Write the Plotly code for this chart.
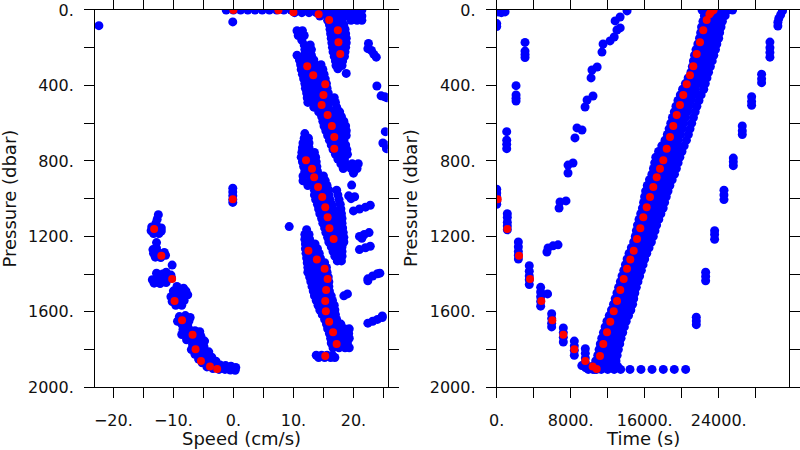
import plotly.graph_objects as go

# ---------------- axis ticks ----------------
speed_ticks = [-20, -15, -10, -5, 0, 5, 10, 15, 20, 25]
speed_ticktext = ["\u221220.", "", "\u221210.", "", "0.", "", "10.", "", "20.", ""]
time_ticks = [0, 4000, 8000, 12000, 16000, 20000, 24000, 28000]
time_ticktext = ["0.", "", "8000.", "", "16000.", "", "24000.", ""]
pres_ticks = [0, 200, 400, 600, 800, 1000, 1200, 1400, 1600, 1800, 2000]
pres_ticktext = ["0.", "", "400.", "", "800.", "", "1200.", "", "1600.", "", "2000."]

# ---------------- red: bin-averaged profile ----------------
red_pressure = [1003, 1161, 1302, 1426, 1542, 1645, 1722, 1798, 1860, 1890, 1903,
                1834, 1770, 1708, 1652, 1597, 1542, 1484, 1426, 1371, 1322, 1276, 1214, 1157,
                1099, 1046, 991, 938, 887, 841, 797, 735, 673, 615, 557, 504, 451, 394, 346, 298,
                233, 171, 108, 53, 23, 12, 2, 0]
red_speed = [-0.1, -13.2, -12.0, -10.2, -9.8, -8.55, -6.8, -6.3, -5.4, -3.9, -2.7,
             15.3, 17.2, 16.6, 15.95, 15.4, 15.3, 15.45, 15.7, 15.2, 13.9, 12.5, 16.7, 16.0,
             15.7, 15.3, 14.8, 14.1, 13.45, 13.1, 12.1, 16.8, 16.8, 16.4, 15.7, 14.7, 15.0, 15.3, 13.3, 12.3,
             17.8, 17.5, 17.4, 15.95, 14.2, 10.0, 7.5, 0.0]
red_time = [108, 1146, 2411, 3600, 4821, 6010, 7200, 8389, 9578, 10373, 10810,
            11167, 11524, 11924, 12280, 12648, 13005, 13362, 13729, 14086, 14443, 14810, 15167, 15523,
            15848, 16215, 16572, 16929, 17296, 17653, 18010, 18377, 18733, 19090, 19457, 19814, 20171, 20539, 20896, 21253,
            21620, 21977, 22334, 22700, 23000, 23150, 23300, 23450]

# ---------------- blue: raw samples, speed panel (pressure, speeds) ----------------
speed_surface_rows = [
    (0, [-1.2, 0.0, 1.2, 2.4, 3.6, 4.8, 6.0, 7.2, 8.4, 9.6, 10.8, 12.0, 13.2, 14.4, 15.6, 16.8, 18.0, 19.2, 20.4, 21.4]),
    (14, [10.2, 11.4, 12.6, 13.8, 15.0, 16.2, 17.4, 18.6, 19.8, 20.9]),
    (32, [14.4, 15.6, 16.8, 18.0, 19.2, 20.4, 21.4]),
    (55, [15.7, 16.9, 18.1, 19.6, 20.6, 21.4]),
]
speed_upper_rows = [
    (78, [16.0, 17.2, 18.4]), (102, [16.1, 17.3, 18.6]), (126, [16.2, 17.4, 18.7]),
    (150, [16.3, 17.5, 18.8]), (174, [16.4, 17.6, 18.8]), (198, [16.5, 17.6, 18.7]),
    (222, [16.6, 17.7, 18.6]), (246, [16.8, 17.8, 18.5]), (270, [17.0, 18.2]),
    (294, [17.1, 18.1]), (312, [17.4]), (336, [18.8]),
    (110, [10.6, 11.5]), (135, [10.8, 11.8]), (160, [11.4]), (185, [11.8, 12.8]),
    (210, [11.9, 13.0]), (240, [10.6, 11.8, 13.0]),
]
speed_band2_rows = [
    (265, [11.0, 12.2, 13.4]), (290, [11.2, 12.4, 13.6, 14.6]), (315, [11.3, 12.5, 13.7, 14.9]),
    (340, [11.5, 12.7, 13.9, 15.1]), (365, [11.7, 12.9, 14.1, 15.3]), (390, [11.9, 13.1, 14.3, 15.5]),
    (415, [12.0, 13.2, 14.4, 15.6]), (440, [12.2, 13.4, 14.6, 15.8]), (465, [12.3, 13.5, 14.7, 15.9, 16.8]),
    (490, [12.4, 13.6, 14.8, 16.0, 17.0]), (515, [13.4, 14.6, 15.8, 17.2]), (540, [14.2, 15.4, 16.6, 17.7]),
    (565, [14.7, 15.9, 17.1, 18.0]), (590, [14.9, 16.1, 17.3, 18.4]), (615, [15.1, 16.3, 17.5, 18.7]),
    (640, [15.4, 16.6, 17.8, 18.8]), (665, [15.7, 16.9, 18.1, 18.8]), (690, [16.0, 17.2, 18.4]),
    (715, [16.3, 17.5, 18.7]), (740, [16.6, 17.8, 18.9]), (765, [17.0, 18.0, 19.0]),
    (790, [17.4, 18.5]), (815, [17.9, 18.7, 19.8, 20.8]), (840, [18.3, 19.6, 20.6]), (865, [20.0]),
]
speed_band3_rows = [
    (655, [11.9]), (680, [11.8, 12.5]), (705, [11.6, 12.6]), (730, [11.5, 12.6]),
    (755, [11.4, 12.6, 13.5]), (780, [11.3, 12.5, 13.7]), (805, [11.5, 12.7, 13.8]),
    (830, [11.7, 12.9, 13.9]), (855, [11.9, 13.0, 14.0]), (880, [11.6, 12.8, 14.0, 15.0]),
    (905, [11.6, 12.8, 14.0, 15.3]), (930, [12.4, 13.6, 14.8, 15.6]), (955, [13.5, 14.7, 15.9, 17.2]),
    (980, [13.5, 14.7, 15.9, 17.4]), (1005, [13.7, 14.9, 16.1, 17.6]), (1030, [14.0, 15.2, 16.4, 17.8]),
    (1055, [14.2, 15.4, 16.6, 17.9]), (1080, [14.4, 15.6, 16.8, 18.0]), (1105, [14.7, 15.9, 17.0, 18.1]),
    (1130, [14.9, 16.0, 17.1, 18.1]), (1155, [15.2, 16.3, 17.3, 18.2]), (1180, [15.4, 16.5, 17.4, 18.3]),
    (1205, [15.7, 16.7, 17.6, 18.4]), (1230, [15.9, 16.9, 17.8, 18.4]), (1255, [16.3, 17.2, 18.1]),
    (1280, [16.6, 17.4, 18.1]), (1305, [16.9, 17.6, 18.1]), (1330, [17.3, 18.0]),
]
speed_band4_rows = [
    (1165, [12.2]), (1190, [11.9, 12.6]), (1215, [11.9, 12.7]), (1240, [12.0, 12.9, 13.6]),
    (1265, [12.0, 13.0, 14.0]), (1290, [12.1, 13.2, 14.3]), (1315, [12.2, 13.3, 14.5]),
    (1340, [12.3, 13.4, 14.6, 15.2]), (1365, [12.4, 13.5, 14.6, 15.5]), (1390, [12.4, 13.6, 14.7, 15.6]),
    (1415, [12.7, 13.8, 14.9, 15.8]), (1440, [12.9, 14.0, 15.0, 15.9]), (1465, [13.1, 14.2, 15.1, 15.9]),
    (1490, [13.3, 14.4, 15.3, 16.0]), (1515, [13.5, 14.6, 15.6, 16.3]), (1540, [13.8, 14.9, 15.9, 16.5]),
    (1565, [14.1, 15.1, 16.0, 16.8]), (1590, [14.4, 15.4, 16.2, 16.9]), (1615, [14.8, 15.7, 16.5, 17.0]),
    (1640, [15.2, 16.0, 16.8, 17.2]), (1665, [15.5, 16.3, 17.1, 17.9]), (1690, [15.7, 16.6, 17.5, 18.5, 19.3]),
    (1715, [16.0, 16.9, 17.8, 18.7, 19.2]), (1740, [16.2, 17.1, 18.0, 18.8, 19.3]),
    (1765, [16.3, 17.3, 18.2, 19.0]), (1790, [16.6, 17.6, 18.6, 19.3]),
    (1830, [13.8, 14.7, 15.6, 16.5]), (1842, [14.2, 15.2, 16.2, 16.9]),
]
speed_scatter_s = [-0.1, -22.4, 9.3,
                   22.5, 22.4, 23.0, 23.4, 23.8, 23.9, 24.6, 25.2, 25.6, 25.3, 24.9, 25.4, 25.5,
                   19.7, 19.2, 20.2, 19.6, 20.0, 21.0, 22.0, 22.8,
                   21.0, 21.8, 22.6, 21.4, 21.0, 22.0, 22.8,
                   22.4, 23.2, 24.0, 24.4, 22.4, 18.4, 19.0,
                   22.4, 23.2, 24.0, 24.8, 24.8]
speed_scatter_p = [63, 83, 1148,
                   177, 205, 215, 235, 250, 403, 455, 460, 465, 645, 705, 715, 735,
                   928, 985, 990, 1000, 1065, 1055, 1045, 1035,
                   1200, 1190, 1180, 1210, 1270, 1260, 1252,
                   1425, 1410, 1398, 1395, 1435, 1515, 1505,
                   1660, 1650, 1640, 1630, 1622]
# descending cast (negative speeds)
speed_desc_s = [-0.1, -0.1, -0.1, -0.1, -0.1,
                -12.5, -12.7, -12.9, -13.6, -12.7, -12.0, -13.7, -12.8, -12.0, -13.3, -12.4,
                -12.8,
                -13.4, -12.8, -13.3, -12.4, -11.5, -13.0, -12.1, -11.3,
                -10.2,
                -12.8, -11.8, -11.2, -10.4, -13.5, -12.6, -11.6, -10.3, -13.2, -12.2, -11.2,
                -9.4, -8.3, -10.0, -9.0, -7.9, -10.4, -9.4, -8.4, -7.6, -10.2, -9.2, -8.2, -9.6, -8.6,
                -9.0, -8.0, -7.2, -9.3, -8.3, -7.4, -8.6, -7.6,
                -8.4, -7.4, -6.4, -5.6, -8.6, -7.5, -6.5, -5.4, -7.8, -6.8, -5.8, -4.8,
                -6.8, -5.8, -4.9, -7.0, -6.0, -5.0, -4.1, -6.4, -5.4, -4.4, -3.6, -5.8, -4.8, -3.8, -2.9,
                -5.2, -4.2, -3.2, -2.2, -1.3, -0.4, 0.4, -4.4, -3.4, -2.4, -1.4, -0.5, 0.3]
speed_desc_p = [945, 965, 985, 1005, 1020,
                1085, 1110, 1130, 1150, 1150, 1155, 1170, 1175, 1172, 1185, 1185,
                1233,
                1270, 1262, 1290, 1290, 1285, 1310, 1312, 1300,
                1352,
                1395, 1400, 1390, 1405, 1430, 1428, 1425, 1420, 1448, 1450, 1445,
                1465, 1475, 1490, 1495, 1490, 1520, 1515, 1515, 1510, 1545, 1545, 1540, 1565, 1565,
                1625, 1620, 1630, 1650, 1650, 1648, 1665, 1665,
                1695, 1690, 1700, 1705, 1720, 1725, 1725, 1730, 1748, 1750, 1752, 1755,
                1775, 1780, 1785, 1800, 1805, 1808, 1812, 1825, 1830, 1835, 1840, 1850, 1855, 1858, 1862,
                1870, 1878, 1880, 1882, 1885, 1888, 1895, 1892, 1900, 1905, 1905, 1908, 1910]

# ---------------- blue: raw samples, time panel (pressure, times) ----------------
time_band_rows = [
    (0, [22200, 22900, 23600, 24300, 25000, 25500]), (30, [22450, 23150, 23850, 24700]),
    (60, [22300, 23000, 23700, 24400]), (90, [22150, 22850, 23550, 24250]),
    (120, [22050, 22750, 23450, 24100]), (150, [21930, 22630, 23330, 24000]),
    (180, [21750, 22450, 23150, 23800]), (210, [21550, 22250, 22950, 23650]),
    (240, [21390, 22090, 22790, 23470]), (270, [21270, 21970, 22670, 23300]),
    (300, [21150, 21850, 22550, 23100]), (330, [21000, 21700, 22400, 22900]),
    (360, [20700, 21400, 22100, 22730]), (390, [20400, 21100, 21800, 22550]),
    (420, [20100, 20800, 21500, 22380]), (450, [19850, 20550, 21250, 22100]),
    (480, [19600, 20300, 21000, 21870]), (510, [19380, 20080, 20780, 21640]),
    (540, [19200, 19900, 20600, 21460]), (570, [19000, 19700, 20400, 21270]),
    (600, [18820, 19520, 20220, 21080]), (630, [18640, 19340, 20040, 20900]),
    (660, [18450, 19150, 19850, 20720]), (690, [18200, 18900, 19600, 20510]),
    (720, [17850, 18450, 19050, 19650, 20270]), (750, [17500, 18130, 18760, 19400, 20030]),
    (780, [17200, 17850, 18500, 19150, 19800]), (810, [17080, 17710, 18340, 18970, 19610]),
    (840, [16950, 17570, 18190, 18800, 19420]), (870, [16780, 17390, 18000, 18610, 19220]),
    (900, [16520, 17130, 17740, 18350, 18970]), (930, [16280, 16890, 17500, 18110, 18720]),
    (960, [16100, 16700, 17300, 17900, 18520]), (990, [15990, 16760, 17550, 18330]),
    (1020, [15880, 16640, 17400, 18150]), (1050, [15750, 16500, 17250, 18000]),
    (1080, [15570, 16300, 17030, 17750]), (1110, [15390, 16100, 16810, 17520]),
    (1140, [15220, 15910, 16600, 17290]), (1170, [15100, 15770, 16440, 17110]),
    (1200, [14980, 15630, 16280, 16930]), (1230, [14810, 15450, 16090, 16720]),
    (1260, [14560, 15200, 15840, 16470]), (1290, [14310, 14950, 15590, 16220]),
    (1320, [14100, 14730, 15370, 16000]), (1350, [13920, 14550, 15190, 15820]),
    (1380, [13740, 14370, 15010, 15640]), (1410, [13550, 14180, 14820, 15450]),
    (1440, [13370, 14000, 14640, 15270]), (1470, [13180, 13820, 14460, 15090]),
    (1500, [13000, 13640, 14290, 14930]), (1530, [12810, 13480, 14150, 14810]),
    (1560, [12630, 13320, 14000, 14690]), (1590, [12410, 13110, 13800, 14500]),
    (1620, [12170, 12860, 13560, 14250]), (1650, [11920, 12610, 13310, 14000]),
    (1680, [11720, 12410, 13110, 13800]), (1710, [11540, 12230, 12930, 13620]),
    (1740, [11360, 12050, 12750, 13440]), (1770, [11200, 11900, 12600, 13300]),
    (1800, [11070, 11760, 12460, 13150]), (1830, [10930, 11630, 12330, 13020]),
    (1860, [10700, 11400, 12100, 12900]), (1890, [10300, 11000, 11700, 12400, 13100]),
    (1905, [9900, 10600, 11300, 12000, 12700, 13400, 14410, 15600, 16790, 18010, 19200, 20430]),
]
# descending cast and the offset sampling lines
time_desc_t = [150, 500, 900, 0, 0,
               3060, 3060, 3060, 3060,
               2090, 2090, 2090, 2090,
               1080, 1080, 1080, 1080,
               0, 0, 0, 0, 0,
               1146, 1146, 1146, 1146, 1146,
               2340, 2340, 2340, 2340, 2340,
               3520, 3520, 3520, 3520, 3520,
               4750, 4750, 5500, 4750, 4750, 4750,
               5940, 5940, 5940, 5940,
               7200, 7200, 7200, 7200,
               8390, 8390, 8390, 8390,
               9580, 9580, 9580, 9580,
               9200, 9600, 10000, 10400, 10800]
time_desc_p = [10, 14, 10, 72, 88,
               172, 218, 236, 252,
               401, 450, 468, 483,
               645, 690, 712, 735,
               950, 970, 990, 1015, 1030,
               1080, 1100, 1125, 1145, 1165,
               1230, 1255, 1280, 1300, 1320,
               1355, 1385, 1410, 1430, 1455,
               1470, 1495, 1505, 1520, 1545, 1570,
               1610, 1635, 1660, 1680,
               1685, 1710, 1735, 1760,
               1755, 1780, 1805, 1830,
               1795, 1820, 1845, 1870,
               1885, 1895, 1900, 1905, 1905]
time_mid_t = [14090, 13340, 12800, 13350, 13000, 12700, 12250, 11500, 11380,
              10860, 10300, 10200, 10410, 9770, 9550, 9220, 8680, 8460,
              8250, 7710, 7710, 7490, 6840, 6740, 6630, 6090, 5550, 5430]
time_mid_p = [5, 37, 58, 95, 106, 143, 164, 180, 223,
              302, 318, 360, 456, 477, 514, 636, 625, 678,
              811, 822, 864, 1012, 1018, 1050, 1245, 1250, 1261, 1283]
time_right_t = [30900, 30700, 30500, 30400, 30400,
                29540, 29540, 29540, 29540,
                28640, 28640, 28640, 27560, 27560, 27560,
                26550, 26550, 26550, 25580, 25580, 25580,
                24570, 24570, 24570, 23560, 23560, 23560,
                22590, 22590, 22590, 21580, 21580, 21580]
time_right_p = [5, 25, 45, 65, 85,
                170, 200, 225, 250,
                340, 365, 385, 460, 485, 505,
                615, 640, 660, 785, 805, 825,
                955, 980, 1005, 1170, 1190, 1215,
                1390, 1412, 1435, 1628, 1648, 1668]


def flatten(rows):
    xs, ps = [], []
    for p, vals in rows:
        for v in vals:
            xs.append(v)
            ps.append(p)
    return xs, ps


left_x, left_p = [], []
for rows in (speed_surface_rows, speed_upper_rows, speed_band2_rows, speed_band3_rows, speed_band4_rows):
    xs, ps = flatten(rows)
    left_x += xs
    left_p += ps
left_x += speed_scatter_s + speed_desc_s
left_p += speed_scatter_p + speed_desc_p

right_x, right_p = flatten(time_band_rows)
right_x += time_desc_t + time_mid_t + time_right_t
right_p += time_desc_p + time_mid_p + time_right_p

BLUE = "#0000ff"
RED = "#ff0000"
FONT = "DejaVu Sans"

fig = go.Figure()
blue_marker = dict(color=BLUE, size=9, line=dict(width=0))
red_marker = dict(color=RED, size=8, line=dict(width=0))
fig.add_trace(go.Scatter(x=left_x, y=left_p, mode="markers", marker=blue_marker,
                         xaxis="x", yaxis="y", hoverinfo="skip"))
fig.add_trace(go.Scatter(x=right_x, y=right_p, mode="markers", marker=blue_marker,
                         xaxis="x2", yaxis="y2", hoverinfo="skip"))
fig.add_trace(go.Scatter(x=red_speed, y=red_pressure, mode="markers", marker=red_marker,
                         xaxis="x", yaxis="y", hoverinfo="skip"))
fig.add_trace(go.Scatter(x=red_time, y=red_pressure, mode="markers", marker=red_marker,
                         xaxis="x2", yaxis="y2", hoverinfo="skip"))

common = dict(showline=True, linecolor="black", linewidth=1, mirror="ticks",
              ticks="outside", ticklen=10, tickwidth=1, tickcolor="black",
              showgrid=False, zeroline=False, automargin=False,
              tickfont=dict(family=FONT, size=16, color="#111111"))

ydom = [0.1393, 0.9778]
fig.update_layout(
    width=800, height=450,
    margin=dict(l=0, r=0, t=0, b=0, autoexpand=False),
    paper_bgcolor="white", plot_bgcolor="white",
    showlegend=False,
    xaxis=dict(domain=[0.11875, 0.4846], range=[-23.05, 25.7], anchor="y",
               tickmode="array", tickvals=speed_ticks, ticktext=speed_ticktext,
               ticklabelstandoff=8, **common),
    yaxis=dict(domain=ydom, range=[2000, 0], anchor="x",
               tickmode="array", tickvals=pres_ticks, ticktext=pres_ticktext,
               ticklabelstandoff=7, **common),
    xaxis2=dict(domain=[0.6209, 0.9866], range=[0, 31632], anchor="y2",
                tickmode="array", tickvals=time_ticks, ticktext=time_ticktext,
                ticklabelstandoff=8, **common),
    yaxis2=dict(domain=ydom, range=[2000, 0], anchor="x2",
                tickmode="array", tickvals=pres_ticks, ticktext=pres_ticktext,
                ticklabelstandoff=7, **common),
)

title_font = dict(family=FONT, size=18, color="#111111")
fig.add_annotation(text="Speed (cm/s)", x=241.3 / 800, y=(450 - 438) / 450, xref="paper", yref="paper",
                   showarrow=False, xanchor="center", yanchor="middle", font=title_font)
fig.add_annotation(text="Time (s)", x=643 / 800, y=(450 - 438) / 450, xref="paper", yref="paper",
                   showarrow=False, xanchor="center", yanchor="middle", font=title_font)
fig.add_annotation(text="Pressure (dbar)", x=10 / 800, y=(450 - 198.6) / 450, xref="paper", yref="paper",
                   showarrow=False, xanchor="center", yanchor="middle", textangle=-90, font=title_font)
fig.add_annotation(text="Pressure (dbar)", x=410.5 / 800, y=(450 - 198.6) / 450, xref="paper", yref="paper",
                   showarrow=False, xanchor="center", yanchor="middle", textangle=-90, font=title_font)

fig.write_html("out.html", config={"displayModeBar": False, "staticPlot": True},
               post_script="document.body.style.margin='0';document.body.style.overflow='hidden';")
